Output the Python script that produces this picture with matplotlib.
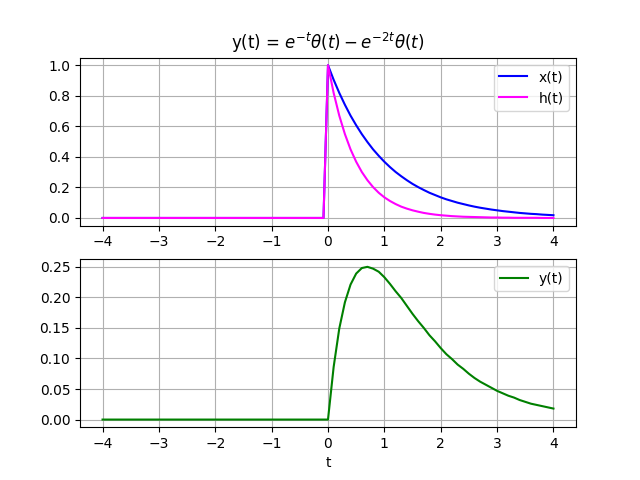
import matplotlib
matplotlib.use("Agg")
import matplotlib.pyplot as plt

t_neg = [-4.0, -0.08]
t_pos = [round(0.1 * i, 1) for i in range(41)]
t = t_neg + t_pos

x_vals = [0, 0,
          1.0, 0.905, 0.819, 0.741, 0.670, 0.607, 0.549, 0.497, 0.449, 0.407, 0.368,
          0.333, 0.301, 0.273, 0.247, 0.223, 0.202, 0.183, 0.165, 0.150, 0.135,
          0.122, 0.111, 0.100, 0.091, 0.082, 0.074, 0.067, 0.061, 0.055, 0.050,
          0.045, 0.041, 0.037, 0.033, 0.030, 0.027, 0.025, 0.022, 0.020, 0.018]
h_vals = [0, 0,
          1.0, 0.819, 0.670, 0.549, 0.449, 0.368, 0.301, 0.247, 0.202, 0.165, 0.135,
          0.111, 0.091, 0.074, 0.061, 0.050, 0.041, 0.033, 0.027, 0.022, 0.018,
          0.015, 0.012, 0.010, 0.008, 0.007, 0.006, 0.005, 0.004, 0.003, 0.003,
          0.002, 0.002, 0.001, 0.001, 0.001, 0.001, 0.001, 0.000, 0.000, 0.000]
y_vals = [0, 0,
          0.0, 0.086, 0.149, 0.192, 0.221, 0.239, 0.248, 0.250, 0.247, 0.242, 0.233,
          0.222, 0.210, 0.199, 0.186, 0.173, 0.161, 0.150, 0.138, 0.128, 0.117,
          0.107, 0.099, 0.090, 0.083, 0.075, 0.068, 0.062, 0.057, 0.052, 0.047,
          0.043, 0.039, 0.036, 0.032, 0.029, 0.026, 0.024, 0.022, 0.020, 0.018]

fig, (ax1, ax2) = plt.subplots(2, 1, figsize=(6.4, 4.8), dpi=100)
ax1.plot(t, x_vals, color="blue", label="x(t)")
ax1.plot(t, h_vals, color="magenta", label="h(t)")
ax1.set_title(r"y(t) = $e^{-t}\theta(t) - e^{-2t}\theta(t)$")
ax1.grid(True)
ax1.legend(loc="upper right")

ax2.plot(t, y_vals, color="green", label="y(t)")
ax2.set_xlabel("t")
ax2.grid(True)
ax2.legend(loc="upper right")

fig.savefig("out.png")
